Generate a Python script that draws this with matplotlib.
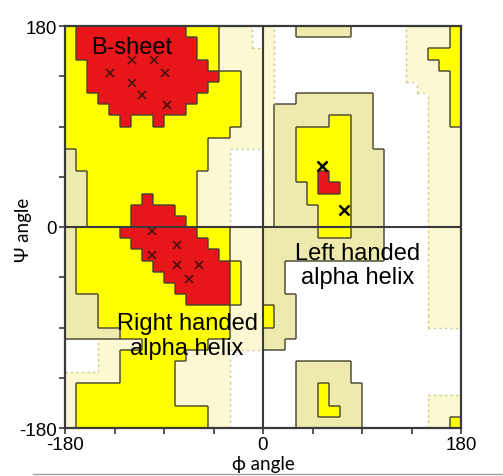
import numpy as np
import matplotlib
matplotlib.use("Agg")
import matplotlib.pyplot as plt
from matplotlib.colors import ListedColormap
from matplotlib.collections import LineCollection
from matplotlib.lines import Line2D

# Ramachandran regions on a 10 degree grid.
# First string is psi 170..180, first char is phi -180..-170.
# . disallowed, c generous (light), b generous, y allowed, r core
REGION_ROWS = [
    "yrrrrrrrrrryyyccc." + "c..bbbbb.....ccccy",
    "yrrrrrrrrrrryyccc." + "c............ccccy",
    "yrrrrrrrrrrryycccc" + "c............ccyyy",
    "yyrrrrrrrrrrrycccc" + "c............cccyy",
    "yyrrrrrrrrrrrryycc" + "c............ccccy",
    "yyrrrrrrrrrrryyycc" + "c.............cccy",
    "yyyrrrrrrrrryyyycc" + "c..bbbbbbb.....ccy",
    "yyyyrrrrrrryyyyycc" + "cbbbbbbbbb.....ccy",
    "yyyyyryyryyyyyyycc" + "cbbbbbyybb.....ccy",
    "yyyyyyyyyyyyyyyccc" + "cbbyyyyybb.....ccc",
    "yyyyyyyyyyyyyccccc" + "cbbyyyyybb.....ccc",
    "byyyyyyyyyyyycc..." + "cbbyyyyybbb....ccc",
    "byyyyyyyyyyyycc..." + "cbbyyyyybbb....ccc",
    "bbyyyyyyyyyyccc..." + "cbbyyryybbb....ccc",
    "bbyyyyyyyyyyccc..." + "cbbbyrrybbb....ccc",
    "bbyyyyyryyyyccc..." + "cbbbyyyybbb....ccc",
    "bbyyyyrrrryyccc..." + "cbbbbyyybbb....ccc",
    "bbyyyyrrrrryccc..." + "cbbbbyyybbb....ccc",
    "byyyyrrrrrrryyyccc" + "bbbbbyyybbb....ccc",
    "byyyyyrrrrrrryyccc" + "bbbbbbbbbbb....ccc",
    "byyyyyyrrrrrrryccc" + "bbbbbbbbbbb....ccc",
    "byyyyyyyrrrrrrrycc" + "bb.............ccc",
    "byyyyyyyyrrrrrrycc" + "bb.............ccc",
    "byyyyyyyyyrrrrrycc" + "bb.............ccc",
    "bbbyyyyyyyyrrrrycc" + "bbb............ccc",
    "bbbyyyyyyyyyyyyccc" + "ybb............ccc",
    "bbbyyyyyyyyyyyyccc" + "ybb............ccc",
    "bbbbbyyyyyyyyyyccc" + "bbb...............",
    "...ccccyyyyyyccccc" + "bb................",
    "...ccyyyyyycccc..." + "..................",
    "...ccyyyyyccccc..." + "...bbbbb..........",
    "cccccyyyyyccccc..." + "...bbbbb..........",
    "cyyyyyyyyyccccc..." + "...bbybbb.........",
    "cyyyyyyyyyccccc..." + "...bbybbb......ccc",
    "cyyyyyyyyyyyycc..." + "...bbyybb......ccc",
    "cyyyyyyyyyyyycc..." + "...bbbbbb......ccy",
]
LEVELS = ".cbyr"
REGION_COLORS = ["#ffffff", "#fbf8d2", "#eeeaad", "#ffff00", "#e8161a"]

# residues plotted as x
SHEET_PHI = [-119, -99, -139, -89, -119, -110, -87]
SHEET_PSI = [150, 150, 138, 138, 129, 118, 109]
HELIX_PHI = [-101, -78, -101, -78, -58, -67]
HELIX_PSI = [-4, -16, -25, -34, -34, -47]
LEFT_PHI = [54, 74]
LEFT_PSI = [55, 15]

TICKS = [-180, -135, -90, -45, 0, 45, 90, 135, 180]
TICK_LABELS = ["-180", "", "", "", "0", "", "", "", "180"]

grid = np.array([[LEVELS.index(ch) for ch in row] for row in REGION_ROWS])[::-1]
n_rows, n_cols = grid.shape
phi_edges = np.linspace(-180, 180, n_cols + 1)
psi_edges = np.linspace(-180, 180, n_rows + 1)

fig = plt.figure(figsize=(5.03, 4.77), dpi=100)
ax = fig.add_axes([65 / 503, 1 - 429 / 477, 396 / 503, 402 / 477])

cmap = ListedColormap(REGION_COLORS)
ax.pcolormesh(phi_edges, psi_edges, grid, cmap=cmap, vmin=-0.5, vmax=4.5)


def add_edge(a, b, seg, solid, faint):
    # light cream against white gets only a faint dotted edge
    if {a, b} == {0, 1}:
        faint.append(seg)
    else:
        solid.append(seg)


solid, faint = [], []
for i in range(n_rows):
    for j in range(n_cols - 1):
        if grid[i, j] != grid[i, j + 1]:
            x = phi_edges[j + 1]
            add_edge(grid[i, j], grid[i, j + 1],
                     [(x, psi_edges[i]), (x, psi_edges[i + 1])], solid, faint)
for i in range(n_rows - 1):
    for j in range(n_cols):
        if grid[i, j] != grid[i + 1, j]:
            y = psi_edges[i + 1]
            add_edge(grid[i, j], grid[i + 1, j],
                     [(phi_edges[j], y), (phi_edges[j + 1], y)], solid, faint)
ax.add_collection(LineCollection(solid, colors="#45422f", linewidths=1.2, alpha=0.85))
ax.add_collection(LineCollection(faint, colors="#c9c48a", linewidths=1.0,
                                 linestyles=(0, (1.5, 2.5))))

ax.axhline(0, color="#3a3a3a", lw=1.5)
ax.axvline(0, color="#3a3a3a", lw=1.5)

ax.plot(SHEET_PHI, SHEET_PSI, "x", color="#4a1410", ms=6, mew=1.2)
ax.plot(HELIX_PHI, HELIX_PSI, "x", color="#4a1410", ms=6, mew=1.2)
ax.plot(LEFT_PHI, LEFT_PSI, "x", color="black", ms=7, mew=1.8)

txt = dict(family=["Liberation Sans", "DejaVu Sans"], fontsize=17, color="black",
           ha="center", va="center", linespacing=1.15)
ax.text(-119, 161, "B-sheet", **txt)
ax.text(-69, -97, "Right handed\nalpha helix", **txt)
ax.text(86, -34, "Left handed\nalpha helix", **txt)

ax.set_xlim(-180, 180)
ax.set_ylim(-180, 180)
ax.set_xticks(TICKS)
ax.set_xticklabels(TICK_LABELS)
ax.set_yticks(TICKS)
ax.set_yticklabels(TICK_LABELS)
ax.tick_params(length=4, width=1.2, color="#3a3a3a", pad=2, labelsize=13.5)
for lab in ax.get_xticklabels() + ax.get_yticklabels():
    lab.set_family(["Liberation Sans", "DejaVu Sans"])
for sp in ax.spines.values():
    sp.set_color("#3a3a3a")
    sp.set_linewidth(1.6)

lab_font = ["Lato", "DejaVu Sans"]
fig.text(263 / 503, 1 - 465 / 477, "\u03d5 angle", family=lab_font, fontsize=13.5,
         ha="center", va="center")
fig.text(24 / 503, 1 - 230 / 477, "\u03a8 angle", family=lab_font, fontsize=13.5,
         ha="center", va="center", rotation=90)

fig.add_artist(Line2D([33 / 503, 1], [1 - 475 / 477, 1 - 475 / 477],
                      color="#a0a0a0", lw=1.0))

fig.savefig("out.png", dpi=100)
